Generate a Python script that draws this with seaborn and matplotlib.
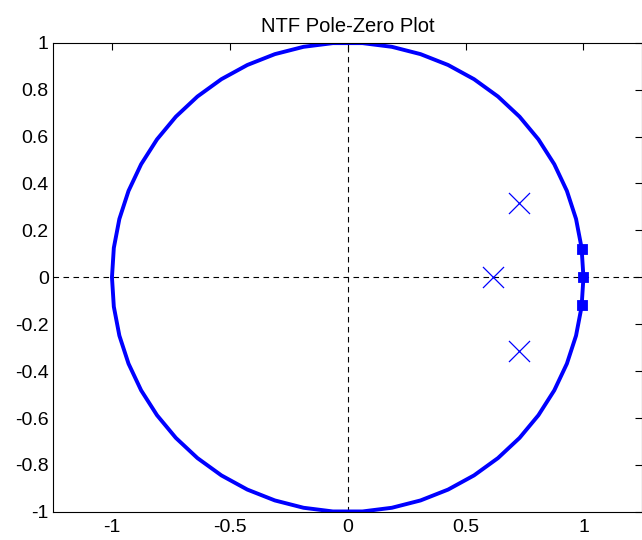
import numpy as np
import pandas as pd
import matplotlib
matplotlib.use("Agg")
import matplotlib.pyplot as plt
import seaborn as sns

# Data
pole_re = [0.617, 0.728, 0.728]
pole_im = [0.0, 0.315, -0.315]
zero_re = [1.0, 0.993, 0.993]
zero_im = [0.0, 0.12, -0.12]
xticks = [-1, -0.5, 0, 0.5, 1]
yticks = [-1, -0.8, -0.6, -0.4, -0.2, 0, 0.2, 0.4, 0.6, 0.8, 1]
title = "NTF Pole-Zero Plot"

sns.set_style("white")
plt.rcParams['font.family'] = ['Liberation Sans', 'DejaVu Sans']

fig = plt.figure(figsize=(6.42, 5.40), dpi=100)
ax = fig.add_axes([0.0826, 0.052, 0.918, 0.869])

theta = np.linspace(0, 2 * np.pi, 51)
circ = pd.DataFrame({"re": np.cos(theta), "im": np.sin(theta), "i": np.arange(len(theta))})

ax.axhline(0, color="black", lw=0.8, ls=(0, (5, 4)), zorder=1)
ax.axvline(0, color="black", lw=0.8, ls=(0, (5, 4)), zorder=1)

sns.lineplot(data=circ, x="re", y="im", sort=False, estimator=None, color="#0000ff",
             lw=2.8, ax=ax, zorder=2)
sns.scatterplot(x=zero_re, y=zero_im, marker="s", s=55, color="#0000ff",
                edgecolor="#0000ff", ax=ax, zorder=3)
sns.scatterplot(x=pole_re, y=pole_im, marker="x", s=230, color="#0000ff",
                linewidth=0.9, ax=ax, zorder=3)

ax.set_xlim(-1.25, 1.25)
ax.set_ylim(-1, 1)
ax.set_xticks(xticks)
ax.set_xticklabels(["-1", "-0.5", "0", "0.5", "1"])
ax.set_yticks(yticks)
ax.set_yticklabels(["-1", "-0.8", "-0.6", "-0.4", "-0.2", "0", "0.2", "0.4", "0.6", "0.8", "1"])
ax.tick_params(direction="in", top=True, right=True, length=5, width=0.8,
               labelsize=14, color="black", labelcolor="black", pad=3)
ax.tick_params(axis="x", pad=5)
ax.set_xlabel("")
ax.set_ylabel("")
for s in ax.spines.values():
    s.set_color("black")
    s.set_linewidth(0.8)
ax.set_title(title, fontsize=14.5, pad=8, color="black")

fig.savefig("out.png", dpi=100)
